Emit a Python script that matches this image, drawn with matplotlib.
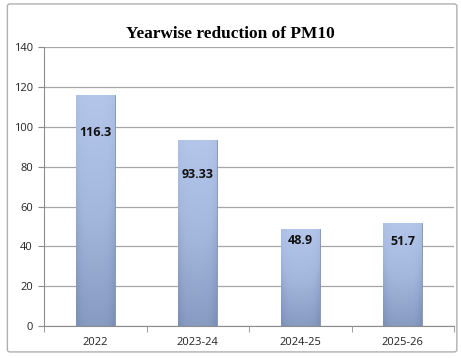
import numpy as np
import matplotlib.pyplot as plt
from matplotlib.patches import FancyBboxPatch
from matplotlib.colors import LinearSegmentedColormap

years = ["2022", "2023-24", "2024-25", "2025-26"]
pm10 = [116.3, 93.33, 48.9, 51.7]
value_labels = ["116.3", "93.33", "48.9", "51.7"]

fig = plt.figure(figsize=(4.61, 3.58), dpi=100)
fig.patches.append(FancyBboxPatch((0.016, 0.017), 0.975, 0.972,
                                  boxstyle="round,pad=0,rounding_size=0.006",
                                  transform=fig.transFigure, fill=False,
                                  edgecolor="#b0b0b0", linewidth=1.0))

ax = fig.add_axes([0.0954, 0.0894, 0.8896, 0.778])
x = np.arange(len(years))
bars = ax.bar(x, pm10, width=0.38, color="#9fb3d9", edgecolor="#7f8fae",
              linewidth=0.6, zorder=2)

# vertical + horizontal gradient like the Excel bevel
cmap = LinearSegmentedColormap.from_list("bev", ["#7c8fb6", "#a3b6dc", "#b8cbee"])
for b in bars:
    x0, y0 = b.get_x(), b.get_y()
    w, h = b.get_width(), b.get_height()
    yy = np.linspace(0, 1, 200)[:, None]
    xx = np.linspace(-1, 1, 60)[None, :]
    grad = 0.15 + 0.75 * yy - 0.18 * xx ** 4
    im = ax.imshow(grad, extent=[x0, x0 + w, y0, y0 + h], origin="lower",
                   aspect="auto", cmap=cmap, vmin=0, vmax=1, zorder=2.5)
    im.set_clip_path(b)

label_off = [19, 17, 6, 9]
for xi, v, lab, off in zip(x, pm10, value_labels, label_off):
    ax.text(xi, v - off, lab, ha="center", va="center", fontsize=9,
            fontweight="bold", family="Open Sans", color="#111111", zorder=3)

ax.set_ylim(0, 140)
ax.set_xlim(-0.5, len(years) - 0.5)
ax.set_yticks(range(0, 141, 20))
ax.yaxis.grid(True, color="#a6a6a6", linewidth=0.9, zorder=0)
ax.set_axisbelow(True)
ax.set_xticks(x)
ax.set_xticklabels(years)
ax.set_xticks(np.arange(-0.5, len(years)), minor=True)
ax.tick_params(axis="x", which="major", length=0, pad=8)
ax.tick_params(axis="x", which="minor", length=4, color="#8c8c8c", direction="out")
ax.tick_params(axis="y", length=4, color="#8c8c8c", direction="out", pad=4)
for lbl in ax.get_xticklabels() + ax.get_yticklabels():
    lbl.set_fontsize(8)
    lbl.set_family("Open Sans")
    lbl.set_color("#222222")
for s in ["top", "right"]:
    ax.spines[s].set_visible(False)
ax.spines["left"].set_color("#8c8c8c")
ax.spines["bottom"].set_color("#8c8c8c")

fig.text(0.5, 0.905, "Yearwise reduction of PM10", ha="center", va="center",
         fontsize=12.4, fontweight="bold", family="Liberation Serif")

plt.savefig("out.png", dpi=100)
